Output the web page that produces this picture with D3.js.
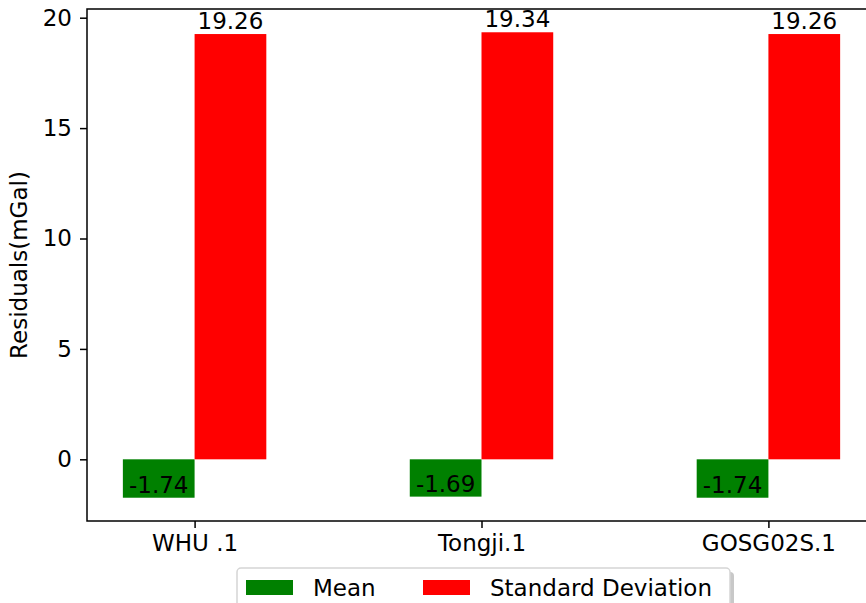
<!DOCTYPE html>
<html><head><meta charset="utf-8">
<script src="https://cdn.jsdelivr.net/npm/d3@7"></script>
<style>body{margin:0;background:#fff}svg{display:block}text{font-family:"DejaVu Sans",sans-serif;fill:#000}</style>
</head><body><svg id="c" width="866" height="603"></svg>
<script>
const categories = ["WHU .1", "Tongji.1", "GOSG02S.1"];
const meanValues = [-1.74, -1.69, -1.74];
const stdValues = [19.26, 19.34, 19.26];
const yTicks = [0, 5, 10, 15, 20];
const seriesNames = ["Mean", "Standard Deviation"];
const seriesColors = ["#008000", "#ff0000"];

const svg = d3.select("#c");
const fs = 23;
const L = 87, R = 876, T = 9, B = 521;
const barW = 0.25;
const x = d3.scaleLinear().domain([-0.375, 2.375]).range([L, R]);
const y = d3.scaleLinear().domain([-2.794, 20.394]).range([B, T]);

const series = [meanValues, stdValues];
series.forEach((vals, s) => {
  const off = s === 0 ? -barW : 0;
  svg.append("g").selectAll("rect").data(vals).join("rect")
    .attr("x", (d, i) => x(i + off))
    .attr("width", x(barW) - x(0))
    .attr("y", d => y(Math.max(0, d)))
    .attr("height", d => Math.abs(y(d) - y(0)))
    .attr("fill", seriesColors[s]);
  svg.append("g").selectAll("text").data(vals).join("text")
    .attr("x", (d, i) => x(i + off + barW / 2))
    .attr("y", d => y(d) - 5)
    .attr("text-anchor", "middle")
    .attr("font-size", fs)
    .text(d => d.toFixed(2));
});

// axes
const yAxis = svg.append("g").attr("transform", `translate(${L},0)`)
  .call(d3.axisLeft(y).tickValues(yTicks).tickSize(7).tickPadding(8));
const xAxis = svg.append("g").attr("transform", `translate(0,${B})`)
  .call(d3.axisBottom(x).tickValues(categories.map((c, i) => i)).tickFormat(i => categories[i]).tickSize(7).tickPadding(7));
[yAxis, xAxis].forEach(a => {
  a.selectAll("text").attr("font-size", fs).attr("font-family", "DejaVu Sans").attr("fill", "#000");
  a.selectAll("line").attr("stroke", "#000").attr("stroke-width", 1.5);
  a.select(".domain").remove();
});
svg.append("rect").attr("x", L).attr("y", T).attr("width", R - L).attr("height", B - T)
  .attr("fill", "none").attr("stroke", "#000").attr("stroke-width", 1.5);

svg.append("text").attr("transform", `translate(27,${(T + B) / 2}) rotate(-90)`)
  .attr("text-anchor", "middle").attr("font-size", fs).text("Residuals(mGal)");

// legend
const lg = svg.append("g");
lg.append("rect").attr("x", 241).attr("y", 572).attr("width", 493).attr("height", 60).attr("rx", 4).attr("fill", "#c8c8c8");
lg.append("rect").attr("x", 237).attr("y", 568).attr("width", 493).attr("height", 60).attr("rx", 4)
  .attr("fill", "#fff").attr("stroke", "#d5d5d5").attr("stroke-width", 1.5);
const items = [{x: 246}, {x: 423}];
seriesNames.forEach((n, i) => {
  lg.append("rect").attr("x", items[i].x).attr("y", 580).attr("width", 47).attr("height", 15).attr("fill", seriesColors[i]);
  lg.append("text").attr("x", items[i].x + 67).attr("y", 596).attr("font-size", fs).text(n);
});
</script></body></html>
